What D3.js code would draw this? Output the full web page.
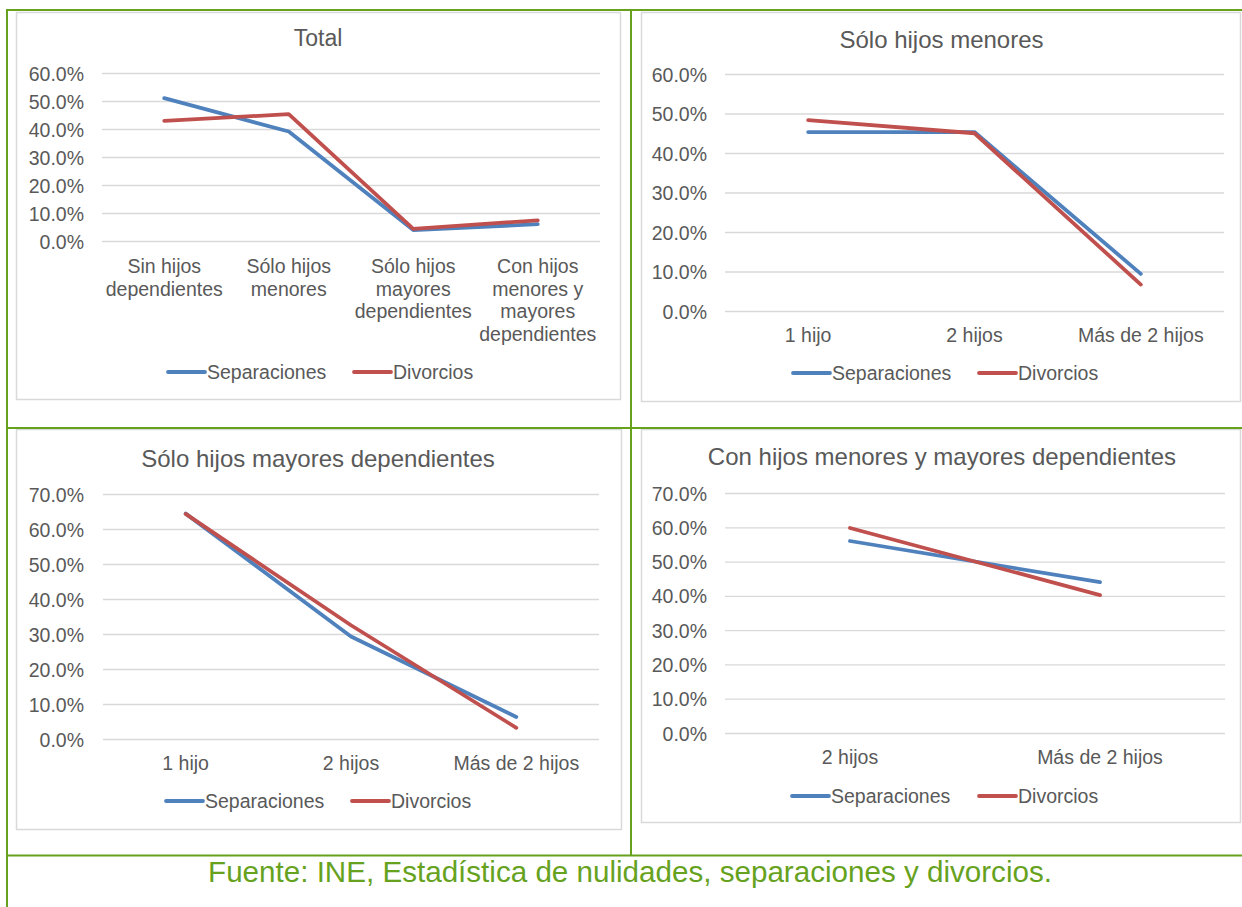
<!DOCTYPE html>
<html>
<head>
<meta charset="utf-8">
<script src="https://cdn.jsdelivr.net/npm/d3@7"></script>
<style>
  html, body { margin: 0; padding: 0; background: #ffffff; }
  svg { display: block; font-family: "Liberation Sans", Arial, sans-serif; }
</style>
</head>
<body>
<svg id="chart" width="1242" height="907"></svg>
<script>
// ---------------- DATA ----------------
const seriesNames = ["Separaciones", "Divorcios"];

const totalTitle = "Total";
const totalCats = ["Sin hijos\ndependientes", "Sólo hijos\nmenores", "Sólo hijos\nmayores\ndependientes", "Con hijos\nmenores y\nmayores\ndependientes"];
const totalSep = [51.0, 39.1, 3.9, 6.0];
const totalDiv = [42.9, 45.3, 4.3, 7.4];

const menoresTitle = "Sólo hijos menores";
const menoresCats = ["1 hijo", "2 hijos", "Más de 2 hijos"];
const menoresSep = [45.3, 45.3, 9.4];
const menoresDiv = [48.3, 45.0, 6.7];

const mayoresTitle = "Sólo hijos mayores dependientes";
const mayoresCats = ["1 hijo", "2 hijos", "Más de 2 hijos"];
const mayoresSep = [64.4, 29.3, 6.3];
const mayoresDiv = [64.3, 32.5, 3.2];

const ambosTitle = "Con hijos menores y mayores dependientes";
const ambosCats = ["2 hijos", "Más de 2 hijos"];
const ambosSep = [56.0, 44.0];
const ambosDiv = [59.8, 40.2];

const ticks60 = [0, 10, 20, 30, 40, 50, 60];
const ticks70 = [0, 10, 20, 30, 40, 50, 60, 70];

const sourceText = "Fuente: INE, Estadística de nulidades, separaciones y divorcios.";

// ---------------- STYLE ----------------
const colors = ["#4f81bd", "#c0504d"];
const textColor = "#595959";
const gridColor = "#d9d9d9";
const green = "#66a21e";

const svg = d3.select("#chart");

// Panel layouts
const panels = [
  { title: totalTitle, titleSize: 23, cats: totalCats, sep: totalSep, div: totalDiv, ticks: ticks60, max: 60,
    frame: [16, 12, 620, 399], titleY: 46, plotX: [102, 600], plotY: [241, 73], labelX: 84,
    catY: 273, catLH: 22.5, legY: 372, legSep: 168, legDiv: 354 },
  { title: menoresTitle, titleSize: 24, cats: menoresCats, sep: menoresSep, div: menoresDiv, ticks: ticks60, max: 60,
    frame: [641, 12, 1240, 401], titleY: 48, plotX: [725, 1224], plotY: [311, 74], labelX: 707,
    catY: 342, catLH: 22.5, legY: 373, legSep: 793, legDiv: 979 },
  { title: mayoresTitle, titleSize: 24, cats: mayoresCats, sep: mayoresSep, div: mayoresDiv, ticks: ticks70, max: 70,
    frame: [16, 429, 621, 829], titleY: 467, plotX: [103, 599], plotY: [739, 494], labelX: 84,
    catY: 770, catLH: 22.5, legY: 801, legSep: 166, legDiv: 352 },
  { title: ambosTitle, titleSize: 24, cats: ambosCats, sep: ambosSep, div: ambosDiv, ticks: ticks70, max: 70,
    frame: [641, 429, 1240, 822], titleY: 465, plotX: [725, 1225], plotY: [733, 493], labelX: 707,
    catY: 764, catLH: 22.5, legY: 796, legSep: 792, legDiv: 979 }
];

panels.forEach(p => {
  const g = svg.append("g");
  const [fx0, fy0, fx1, fy1] = p.frame;
  g.append("rect")
    .attr("x", fx0 + 0.5).attr("y", fy0 + 0.5)
    .attr("width", fx1 - fx0).attr("height", fy1 - fy0)
    .attr("fill", "#ffffff").attr("stroke", gridColor).attr("stroke-width", 1.5);

  // title
  g.append("text")
    .attr("x", (p.plotX[0] + p.plotX[1]) / 2 - 33)
    .attr("y", p.titleY)
    .attr("text-anchor", "middle")
    .attr("font-size", p.titleSize)
    .attr("fill", textColor)
    .text(p.title);

  const x = d3.scaleBand().domain(p.cats).range(p.plotX).padding(0);
  const y = d3.scaleLinear().domain([0, p.max]).range(p.plotY);

  // gridlines via axis
  const gridAxis = d3.axisLeft(y).tickValues(p.ticks)
    .tickSize(-(p.plotX[1] - p.plotX[0])).tickFormat("");
  const gg = g.append("g").attr("transform", `translate(${p.plotX[0]},0)`).call(gridAxis);
  gg.select(".domain").remove();
  gg.selectAll("line").attr("stroke", gridColor).attr("stroke-width", 1.3);

  // y labels
  const labAxis = d3.axisLeft(y).tickValues(p.ticks).tickSize(0).tickPadding(0)
    .tickFormat(d => d.toFixed(1) + "%");
  const ga = g.append("g").attr("transform", `translate(${p.labelX},0)`).call(labAxis);
  ga.select(".domain").remove();
  ga.selectAll("text")
    .attr("font-family", "Liberation Sans, Arial, sans-serif")
    .attr("font-size", 19.5).attr("fill", textColor).attr("dy", "0.36em");

  // category labels
  p.cats.forEach(c => {
    const lines = c.split("\n");
    const t = g.append("text")
      .attr("text-anchor", "middle")
      .attr("font-size", 19.5)
      .attr("fill", textColor);
    lines.forEach((ln, i) => {
      t.append("tspan")
        .attr("x", x(c) + x.bandwidth() / 2)
        .attr("y", p.catY + i * p.catLH)
        .text(ln);
    });
  });

  // lines
  const line = d3.line()
    .x((d, i) => x(p.cats[i]) + x.bandwidth() / 2)
    .y(d => y(d));
  [p.sep, p.div].forEach((vals, si) => {
    g.append("path")
      .datum(vals)
      .attr("d", line)
      .attr("fill", "none")
      .attr("stroke", colors[si])
      .attr("stroke-width", 3.8)
      .attr("stroke-linecap", "round")
      .attr("stroke-linejoin", "round");
  });

  // legend
  [p.legSep, p.legDiv].forEach((lx, si) => {
    g.append("line")
      .attr("x1", lx).attr("x2", lx + 37)
      .attr("y1", p.legY).attr("y2", p.legY)
      .attr("stroke", colors[si]).attr("stroke-width", 3.8)
      .attr("stroke-linecap", "round");
    g.append("text")
      .attr("x", lx + 39).attr("y", p.legY)
      .attr("dy", "0.36em")
      .attr("font-size", 19.5)
      .attr("fill", textColor)
      .text(seriesNames[si]);
  });
});

// table borders (green)
const borders = [
  [6, 10, 1242, 10],
  [7, 9, 7, 907],
  [631, 9, 631, 856],
  [6, 428, 1242, 428],
  [6, 855.5, 1242, 855.5]
];
borders.forEach(b => {
  svg.append("line")
    .attr("x1", b[0]).attr("y1", b[1]).attr("x2", b[2]).attr("y2", b[3])
    .attr("stroke", green).attr("stroke-width", 2);
});

// source
svg.append("text")
  .attr("x", 630).attr("y", 882)
  .attr("text-anchor", "middle")
  .attr("font-size", 29.6)
  .attr("fill", green)
  .text(sourceText);
</script>
</body>
</html>
